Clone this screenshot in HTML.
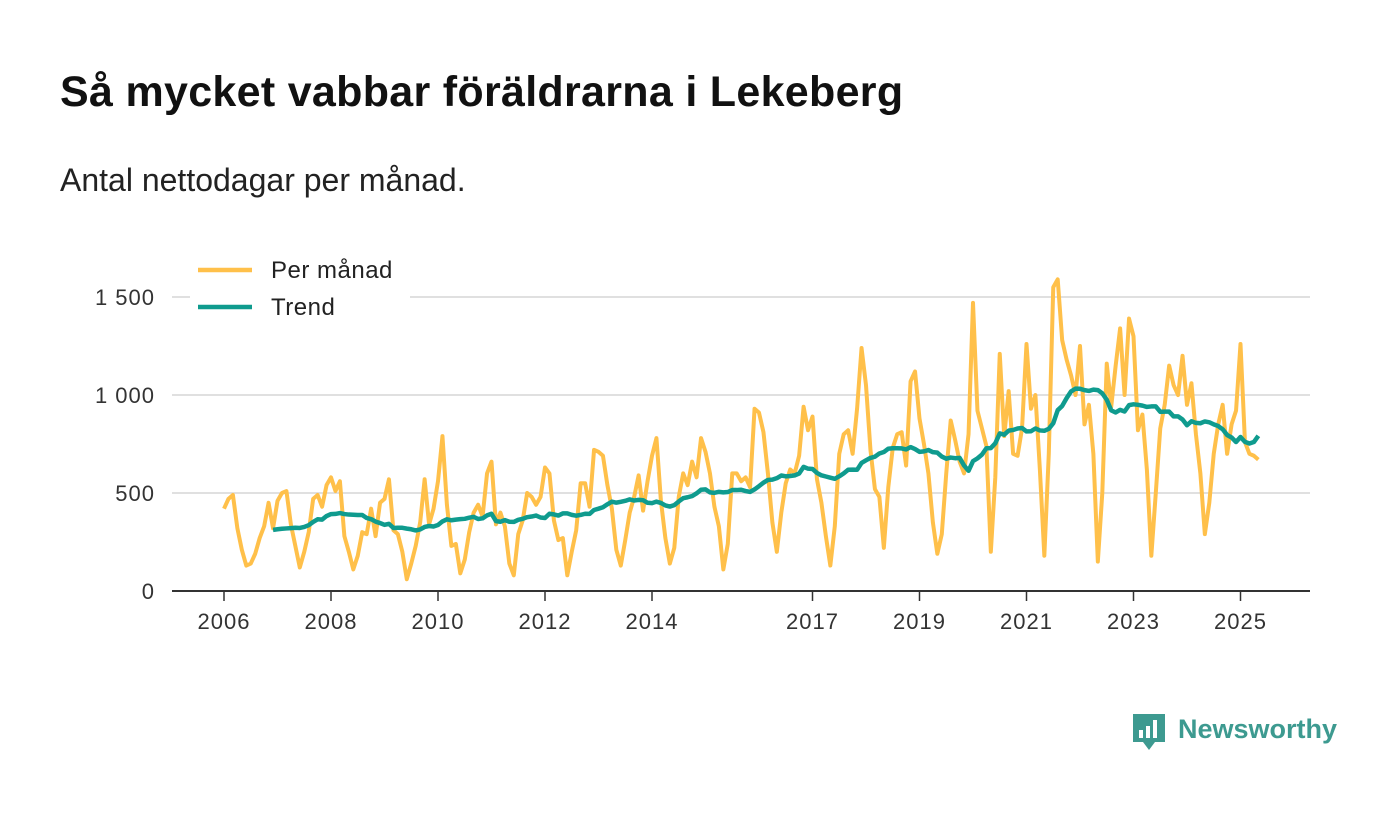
<!DOCTYPE html>
<html><head><meta charset="utf-8"><style>
body{margin:0;width:1400px;height:813px;background:#fff;font-family:"Liberation Sans","DejaVu Sans",sans-serif;overflow:hidden;position:relative}
h1{position:absolute;left:60px;top:68px;margin:0;font-size:43px;font-weight:bold;color:#111;letter-spacing:0.3px}
.sub{position:absolute;left:60px;top:162px;font-size:32px;color:#222}
svg{position:absolute;left:0;top:0}
</style></head><body>
<h1>Så mycket vabbar föräldrarna i Lekeberg</h1>
<div class="sub">Antal nettodagar per månad.</div>
<svg id="c" width="1400" height="813"></svg>
<script>
const startYear = 2006;
const monthly = [
420,470,490,320,210,130,140,190,270,330,450,320,
460,500,510,340,230,120,200,300,470,490,430,540,
580,510,560,280,200,110,180,300,290,420,280,450,
470,570,310,290,200,60,140,230,350,570,340,420,
560,790,440,230,240,90,160,300,400,440,380,600,
660,340,400,330,140,80,290,360,500,480,440,480,
630,600,360,260,270,80,200,310,550,550,430,720,
710,690,540,420,210,130,260,400,480,590,410,560,
690,780,460,270,140,220,480,600,540,660,580,780,
710,600,430,330,110,240,600,600,560,580,530,930,
910,810,600,350,200,400,550,620,600,690,940,820,
890,570,450,280,130,330,700,800,820,700,930,1240,
1050,720,520,480,220,530,730,800,810,640,1070,1120,
880,750,600,350,190,290,600,870,770,660,600,800,
1470,920,830,740,200,580,1210,790,1020,700,690,830,
1260,930,1000,620,180,700,1550,1590,1280,1180,1100,1000,
1250,850,950,700,150,500,1160,940,1150,1340,1000,1390,
1300,820,900,620,180,500,830,950,1150,1050,1000,1200,
950,1060,800,600,290,450,700,850,950,700,850,920,
1260,760,700,690,670];
const yTicks = [0,500,1000,1500];
const yTickLabels = ["0","500","1 000","1 500"];
const xTicks = [2006,2008,2010,2012,2014,2017,2019,2021,2023,2025];

const NS="http://www.w3.org/2000/svg";
const svg=document.getElementById('c');
const x=t=>224+(t-startYear)*53.5;
const y=v=>591-v*0.196;
function mk(tag,attrs,parent){const e=document.createElementNS(NS,tag);for(const k in attrs)e.setAttribute(k,attrs[k]);(parent||svg).appendChild(e);return e;}

yTicks.forEach((v,i)=>{
  if(v>0){const g=mk('line',{x1:172,x2:1310,y1:y(v),y2:y(v),stroke:'#d6d6d6','stroke-width':1.5});
  
  }
  const t=mk('text',{x:155,y:y(v)+8,'text-anchor':'end','font-size':22,'letter-spacing':1,fill:'#333'});
  t.textContent=yTickLabels[i];
  
  
});
xTicks.forEach(yr=>{
  const tk=mk('line',{x1:x(yr),x2:x(yr),y1:591,y2:601,stroke:'#333','stroke-width':1.5});
  
  
  const t=mk('text',{x:x(yr),y:629,'text-anchor':'middle','font-size':22,'letter-spacing':1,fill:'#333'});
  t.textContent=yr;
  
  
});
const ax=mk('line',{x1:172,x2:1310,y1:591,y2:591,stroke:'#333','stroke-width':2});



const tm=i=>startYear+i/12;
const p1=mk('polyline',{points:monthly.map((v,i)=>x(tm(i))+','+y(v)).join(' '),fill:'none',stroke:'#ffc04a','stroke-width':4,'stroke-linejoin':'round'});



const trendPts=[];
for(let i=11;i<monthly.length;i++){let s=0;for(let j=i-11;j<=i;j++)s+=monthly[j];trendPts.push(x(tm(i))+','+y(s/12));}
const p2=mk('polyline',{points:trendPts.join(' '),fill:'none',stroke:'#0f9b8e','stroke-width':4.5,'stroke-linejoin':'round'});



[['Per månad','#ffc04a',270],['Trend','#0f9b8e',307]].forEach(([lab,col,yy])=>{
  const g=mk('g',{});
  
  
  mk('rect',{x:190,y:yy-17,width:220,height:34,fill:'#fff'},g);
  mk('line',{x1:198,x2:252,y1:yy,y2:yy,stroke:col,'stroke-width':4.5},g);
  const t=mk('text',{x:271,y:yy+8,'font-size':24,'letter-spacing':0.5,fill:'#222'},g);t.textContent=lab;
});

const lg=mk('g',{});


mk('path',{d:'M1133 714 h32 v28 h-10 l-6 8 l-6 -8 h-10 z',fill:'#3d9a90'},lg);
mk('rect',{x:1139,y:730,width:4,height:8,fill:'#fff'},lg);
mk('rect',{x:1146,y:726,width:4,height:12,fill:'#fff'},lg);
mk('rect',{x:1153,y:720,width:4,height:18,fill:'#fff'},lg);
const lt=mk('text',{x:1178,y:738,'font-size':27,'font-weight':'bold',fill:'#3d9a90'},lg);lt.textContent='Newsworthy';
</script>
</body></html>
